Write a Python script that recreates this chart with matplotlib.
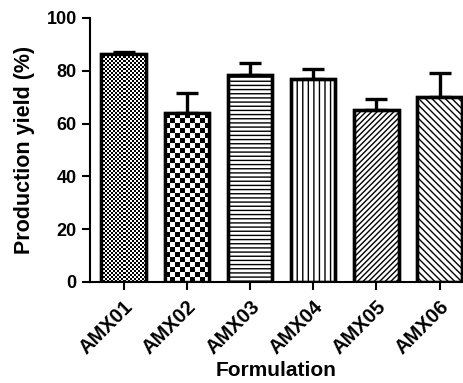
import numpy as np
import matplotlib
matplotlib.use('Agg')
import matplotlib.pyplot as plt

plt.rcParams['font.family'] = ['Liberation Sans', 'DejaVu Sans']
plt.rcParams['hatch.linewidth'] = 1.0

# data
formulations = ['AMX01', 'AMX02', 'AMX03', 'AMX04', 'AMX05', 'AMX06']
yield_mean = [86.3, 64.0, 78.5, 77.0, 65.0, 70.0]
yield_err = [0.8, 7.5, 4.5, 3.5, 4.5, 9.0]

# fill styles: checker size in px for the first two, hatch for the rest
fills = [('checker', 2), ('checker', 5), ('hatch', '----'), ('hatch', '|||'),
         ('hatch', '//////'), ('hatch', '\\\\\\\\\\')]

fig = plt.figure(figsize=(4.64, 3.83), dpi=100)
ax = fig.add_axes([90 / 464, 1 - 282 / 383, (463 - 90) / 464, (282 - 18) / 383])

x = np.arange(len(formulations))
ax.set_xlim(-0.53, 5.37)
ax.set_ylim(0, 100)

bars = ax.bar(x, yield_mean, width=0.7, facecolor='white', edgecolor='black',
              linewidth=2.4, zorder=3)

for b, (kind, val) in zip(bars, fills):
    if kind == 'hatch':
        b.set_hatch(val)
    else:
        x0, y0 = b.get_x(), 0
        x1, y1 = x0 + b.get_width(), b.get_height()
        p0 = ax.transData.transform((x0, y0))
        p1 = ax.transData.transform((x1, y1))
        nx = max(1, int(round((p1[0] - p0[0]) / val)))
        ny = max(1, int(round((p1[1] - p0[1]) / val)))
        grid = (np.add.outer(np.arange(ny), np.arange(nx)) % 2).astype(float)
        im = ax.imshow(grid, cmap='gray', extent=(x0, x1, y0, y1),
                       interpolation='nearest', aspect='auto', zorder=3.1)
        im.set_clip_path(b)

# outlines on top of the checker images
ax.bar(x, yield_mean, width=0.7, facecolor='none', edgecolor='black',
       linewidth=2.4, zorder=3.2)

ax.errorbar(x, yield_mean, yerr=[np.zeros(len(yield_err)), yield_err], fmt='none',
            ecolor='black', elinewidth=2.4, capsize=8, capthick=2.4, zorder=2.5)

ax.set_xlim(-0.53, 5.37)
ax.set_ylim(0, 100)
ax.set_aspect('auto')

ax.spines['top'].set_visible(False)
ax.spines['right'].set_visible(False)
ax.spines['left'].set_linewidth(1.5)
ax.spines['bottom'].set_linewidth(1.5)

ax.set_yticks([0, 20, 40, 60, 80, 100])
ax.set_xticks(x)
ax.set_xticklabels(formulations, rotation=45, ha='right', rotation_mode='anchor')
ax.tick_params(axis='both', direction='out', length=6, width=1.5, labelsize=13)
ax.tick_params(axis='x', labelsize=14.5, pad=5)
for lbl in ax.get_xticklabels() + ax.get_yticklabels():
    lbl.set_fontweight('bold')

ax.set_ylabel('Production yield (%)', fontsize=15.5, fontweight='bold', labelpad=8)
ax.set_xlabel('Formulation', fontsize=15, fontweight='bold', labelpad=2)

fig.savefig('out.png', dpi=100)
